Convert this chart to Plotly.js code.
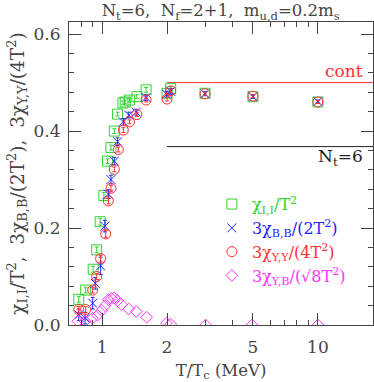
<!DOCTYPE html>
<html lang="en">
  <head>
    <meta charset="UTF-8" />
    <title>susceptibilities</title>
    <script src="https://cdn.plot.ly/plotly-3.0.1.min.js"></script>
    <style>
      body { margin: 0; background: #fff; }
    </style>
  </head>
  <body>
    <div id="myDiv"></div>
    <script>
      // chi_II / T^2
      var tII = [0.78, 0.84, 0.91, 0.945, 0.98, 1.02, 1.06, 1.10, 1.14, 1.18, 1.25, 1.28, 1.34, 1.45, 1.60, 2.0, 2.08, 3.0, 5.0, 10.0];
      var vII = [0.053, 0.072, 0.115, 0.155, 0.213, 0.267, 0.338, 0.366, 0.400, 0.435, 0.458, 0.460, 0.464, 0.471, 0.485, 0.478, 0.488, 0.478, 0.471, 0.460];
      var eII = [0.006, 0.006, 0.006, 0.006, 0.007, 0.006, 0.005, 0.005, 0.005, 0.004, 0.004, 0.004, 0.004, 0.004, 0.005, 0.004, 0.004, 0.003, 0.003, 0.003];

      // 3 chi_BB / (2 T^2)
      var tBB = [0.78, 0.835, 0.905, 0.93, 0.985, 1.03, 1.07, 1.10, 1.14, 1.18, 1.255, 1.33, 1.44, 1.60, 1.99, 2.08, 3.0, 5.0, 10.0];
      var vBB = [0.021, 0.014, 0.045, 0.086, 0.122, 0.204, 0.270, 0.300, 0.338, 0.378, 0.419, 0.433, 0.439, 0.469, 0.476, 0.482, 0.477, 0.471, 0.461];
      var eBB = [0.012, 0.012, 0.012, 0.012, 0.018, 0.012, 0.009, 0.009, 0.008, 0.008, 0.007, 0.006, 0.006, 0.006, 0.006, 0.006, 0.004, 0.003, 0.003];

      // 3 chi_YY / (4 T^2)
      var tYY = [0.78, 0.84, 0.905, 0.945, 0.985, 1.04, 1.07, 1.10, 1.14, 1.19, 1.255, 1.34, 1.45, 1.60, 2.0, 2.08, 3.0, 5.0, 10.0];
      var vYY = [0.032, 0.032, 0.072, 0.100, 0.137, 0.188, 0.256, 0.282, 0.321, 0.362, 0.402, 0.419, 0.434, 0.464, 0.466, 0.483, 0.477, 0.472, 0.460];
      var eYY = [0.006, 0.006, 0.006, 0.006, 0.007, 0.007, 0.006, 0.006, 0.005, 0.005, 0.005, 0.004, 0.004, 0.004, 0.004, 0.004, 0.003, 0.003, 0.003];

      // 3 chi_YB / (sqrt8 T^2)
      var tYB = [0.772, 0.834, 0.902, 0.953, 0.997, 1.032, 1.07, 1.106, 1.14, 1.18, 1.23, 1.33, 1.44, 1.61, 1.99, 2.08, 3.02, 4.95, 10.0];
      var vYB = [0.008, 0.008, 0.014, 0.020, 0.030, 0.040, 0.052, 0.055, 0.056, 0.050, 0.042, 0.033, 0.028, 0.016, 0.004, 0.002, 0.000, 0.000, 0.000];

      // reference levels
      var contLevel = [0.5, 0.5];
      var nt6Level = [0.368, 0.368];
      var levelT = [2, 18];

      var xTicks = [1, 2, 5, 10];
      var xMinor = [0.8, 0.9, 3, 4, 6, 7, 8, 9];
      var yTicks = [0, 0.2, 0.4, 0.6];
      var yTickText = ["0.0", "0.2", "0.4", "0.6"];

      var green = "#2fd22f", blue = "#2424ff", red = "#ff3030", magenta = "#ff33ff";
      var serif = "DejaVu Serif";

      function errs(arr, col) {
        return { type: "data", array: arr, visible: true, color: col, thickness: 1, width: 2 };
      }

      var data = [
        { x: levelT, y: contLevel, mode: "lines", line: { color: red, width: 1 }, showlegend: false, hoverinfo: "skip" },
        { x: levelT, y: nt6Level, mode: "lines", line: { color: "#222", width: 1 }, showlegend: false, hoverinfo: "skip" },
        {
          x: tII, y: vII, mode: "markers", error_y: errs(eII, green),
          marker: { symbol: "square-open", size: 10, color: green, line: { width: 1 } },
          name: '<span style="color:' + green + '">χ<sub>I,I</sub>/T<sup>2</sup></span>',
        },
        {
          x: tBB, y: vBB, mode: "markers", error_y: errs(eBB, blue),
          marker: { symbol: "x-thin-open", size: 9, color: blue, line: { width: 1, color: blue } },
          name: '<span style="color:' + blue + '">3χ<sub>B,B</sub>/(2T<sup>2</sup>)</span>',
        },
        {
          x: tYY, y: vYY, mode: "markers", error_y: errs(eYY, red),
          marker: { symbol: "circle-open", size: 10, color: red, line: { width: 1 } },
          name: '<span style="color:' + red + '">3χ<sub>Y,Y</sub>/(4T<sup>2</sup>)</span>',
        },
        {
          x: tYB, y: vYB, mode: "markers",
          marker: { symbol: "diamond-open", size: 9, color: magenta, line: { width: 1 } },
          name: '<span style="color:' + magenta + '">3χ<sub>Y,B</sub>/(√8T<sup>2</sup>)</span>',
        },
      ];

      var layout = {
        width: 374,
        height: 382,
        margin: { l: 69, r: 1, t: 22, b: 57 },
        paper_bgcolor: "#fff",
        plot_bgcolor: "#fff",
        font: { family: serif, size: 17, color: "#444" },
        title: {
          text: "N<sub>t</sub>=6,  N<sub>f</sub>=2+1,  m<sub>u,d</sub>=0.2m<sub>s</sub>",
          font: { family: serif, size: 16.5, color: "#444" },
          x: 0.59, xanchor: "center", y: 0.972, yanchor: "middle",
        },
        xaxis: {
          type: "log",
          range: [Math.log10(0.703), Math.log10(18)],
          tickvals: xTicks,
          ticktext: xTicks.map(String),
          ticks: "inside", ticklen: 12, tickcolor: "#444",
          minor: { tickvals: xMinor, ticks: "inside", ticklen: 5, tickcolor: "#444" },
          showline: true, linecolor: "#444", mirror: "ticks",
          showgrid: false, zeroline: false,
          ticklabelstandoff: 7,
          title: { text: "T/T<sub>c</sub> (MeV)", standoff: 8, font: { size: 16.5 } },
        },
        yaxis: {
          range: [0, 0.625],
          tickvals: yTicks,
          ticktext: yTickText,
          ticks: "inside", ticklen: 12, tickcolor: "#444",
          minor: { dtick: 0.04, tick0: 0, ticks: "inside", ticklen: 5, tickcolor: "#444" },
          showline: true, linecolor: "#444", mirror: "ticks",
          showgrid: false, zeroline: false,
          ticklabelstandoff: 4,
          title: {
            text: "χ<sub>I,I</sub>/T<sup>2</sup>,  3χ<sub>B,B</sub>/(2T<sup>2</sup>),  3χ<sub>Y,Y</sub>/(4T<sup>2</sup>)",
            standoff: 4, font: { size: 18.5 },
          },
        },
        legend: {
          x: 0.47, y: 0.455, xanchor: "left", yanchor: "top",
          bgcolor: "rgba(0,0,0,0)", borderwidth: 0,
          font: { family: serif, size: 16 },
          itemclick: false,
        },
        annotations: [
          { text: "cont", x: 0.975, y: 0.838, xref: "paper", yref: "paper", xanchor: "right", yanchor: "middle", showarrow: false, font: { color: red, size: 17 } },
          { text: "N<sub>t</sub>=6", x: 0.975, y: 0.552, xref: "paper", yref: "paper", xanchor: "right", yanchor: "middle", showarrow: false, font: { color: "#222", size: 17 } },
        ],
      };

      Plotly.newPlot("myDiv", data, layout, { displayModeBar: false, staticPlot: true });
    </script>
  </body>
</html>
